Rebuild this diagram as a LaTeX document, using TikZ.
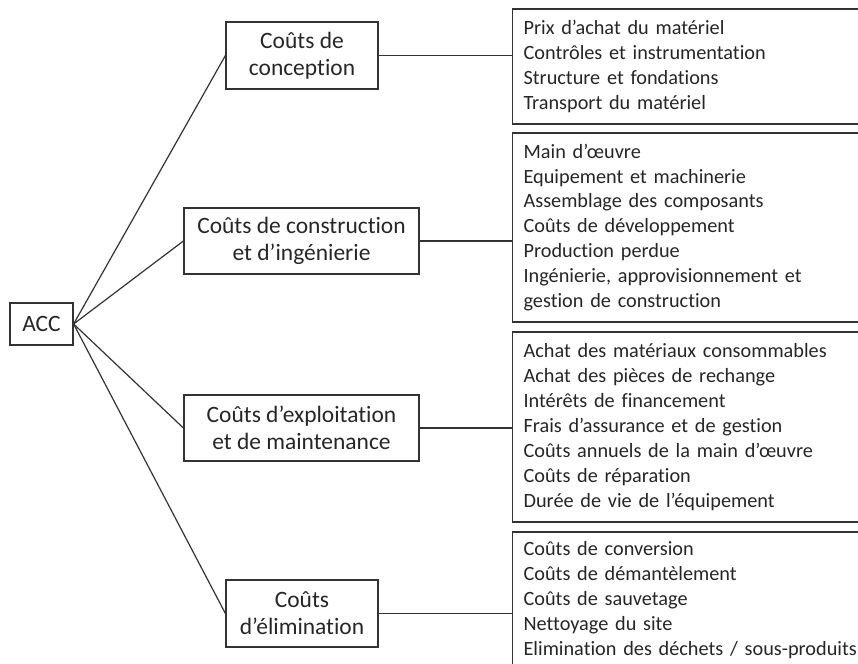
\documentclass[tikz,border=0pt]{standalone}
\usepackage{fontspec}
\setmainfont[Ligatures=NoCommon]{Carlito}
\usepackage{tikz}

\begin{document}
\begin{tikzpicture}[x=0.75pt,y=-0.75pt,
	line width=0.9pt,
	cat/.style={draw=black!80,text=black!85,align=center,inner sep=0pt,
		font=\fontsize{17.6}{20.3}\selectfont},
	liste/.style={draw=black!80,text=black!85,align=left,anchor=west,
		inner xsep=8.25pt,inner ysep=0pt,text width=290pt,
		font=\fontsize{15.2}{18.7}\selectfont},
	link/.style={black!80}]
	
	\useasboundingbox (0,0) rectangle (858,664);
	\clip (0,0) rectangle (858,664);
	%\draw[gray,step=50] (0,0) grid (858,664);
	
	\node [cat,minimum width=47.25pt,minimum height=31.5pt] (acc) at (41.5,324) {ACC};
	
	\node [cat,minimum width=114pt,minimum height=50.25pt] (concep) at (302,55.5)
	{Coûts de\\conception};
	\node [cat,minimum width=176.25pt,minimum height=49.5pt] (constr) at (301.5,241)
	{Coûts de construction\\et d’ingénierie};
	\node [cat,minimum width=176.25pt,minimum height=49.5pt] (exploit) at (301.5,428)
	{Coûts d’exploitation\\et de maintenance};
	\node [cat,minimum width=114pt,minimum height=50.25pt] (elim) at (302,613.5)
	{Coûts\\d’élimination};
	
	\node [liste,minimum height=86.25pt] (lconcep) at (512,66.5)
	{Prix d’achat du matériel\\
	Contrôles et instrumentation\\
	Structure et fondations\\
	Transport du matériel};
	\node [liste,minimum height=141.75pt] (lconstr) at (512,227.5)
	{Main d’œuvre\\
	Equipement et machinerie\\
	Assemblage des composants\\
	Coûts de développement\\
	Production perdue\\
	Ingénierie, approvisionnement et\\
	gestion de construction};
	\node [liste,minimum height=142.5pt] (lexploit) at (512,427)
	{Achat des matériaux consommables\\
	Achat des pièces de rechange\\
	Intérêts de financement\\
	Frais d’assurance et de gestion\\
	Coûts annuels de la main d’œuvre\\
	Coûts de réparation\\
	Durée de vie de l’équipement};
	\node [liste,minimum height=102pt] (lelim) at (512,600)
	{Coûts de conversion\\
	Coûts de démantèlement\\
	Coûts de sauvetage\\
	Nettoyage du site\\
	Elimination des déchets / sous-produits};
	
	\draw [link] (acc.east) -- (concep.west);
	\draw [link] (acc.east) -- (constr.west);
	\draw [link] (acc.east) -- (exploit.west);
	\draw [link] (acc.east) -- (elim.west);
	
	\draw [link] (concep.east) -- (concep.east -| lconcep.west);
	\draw [link] (constr.east) -- (constr.east -| lconstr.west);
	\draw [link] (exploit.east) -- (exploit.east -| lexploit.west);
	\draw [link] (elim.east) -- (elim.east -| lelim.west);
\end{tikzpicture}
\end{document}
